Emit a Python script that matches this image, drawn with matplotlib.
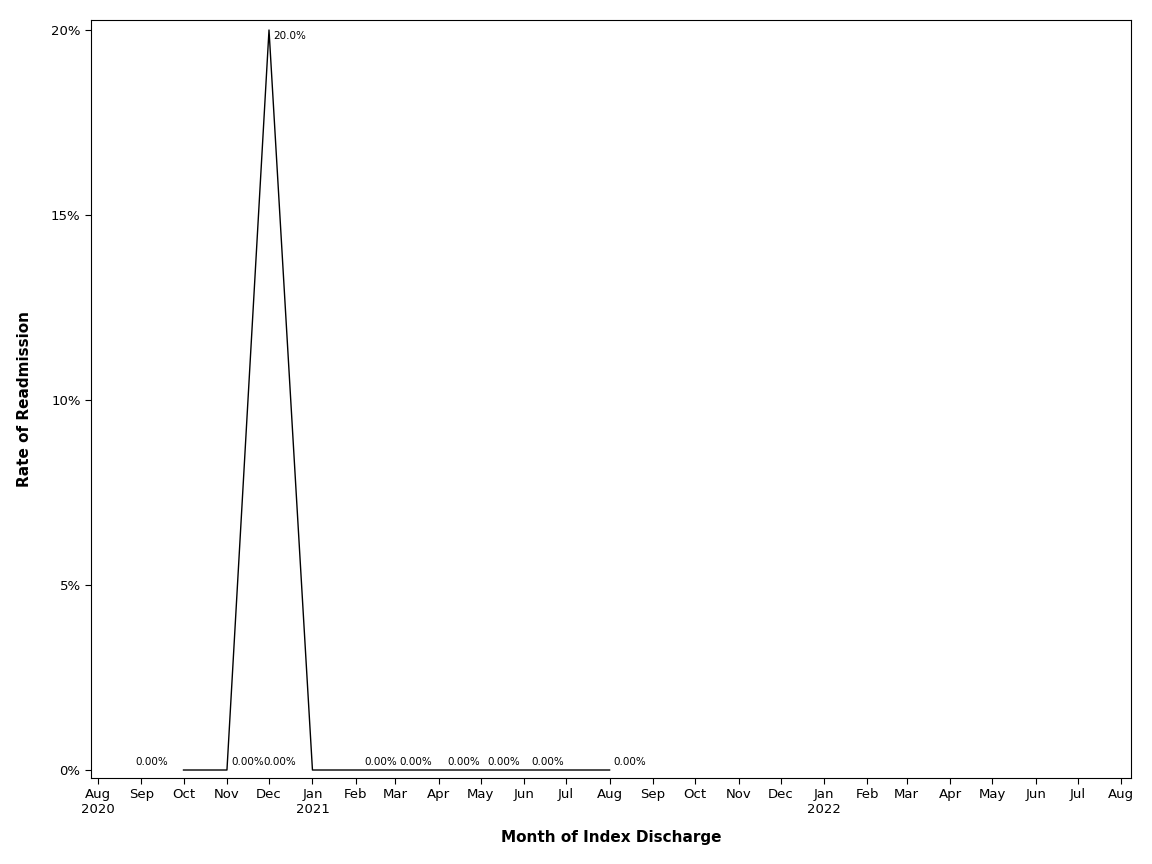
import matplotlib
matplotlib.use("Agg")
import matplotlib.pyplot as plt
import matplotlib.dates as mdates
import datetime as dt

months = ["2020-10","2020-11","2020-12","2021-01","2021-02","2021-03","2021-04",
          "2021-05","2021-06","2021-07","2021-08"]
rates = [0.0,0.0,20.0,0.0,0.0,0.0,0.0,0.0,0.0,0.0,0.0]
labels = ["0.00%","0.00%","20.0%","0.00%","0.00%","0.00%","0.00%","0.00%","0.00%",None,"0.00%"]
# (dx points, ha)
offs = [(-35,"left"),(3,"left"),(3,"left"),(-35,"left"),(6,"left"),(3,"left"),(6,"left"),
        (5,"left"),(5,"left"),(0,"left"),(3,"left")]

dates = [dt.datetime.strptime(m, "%Y-%m") for m in months]

fig = plt.figure(figsize=(11.52, 8.64), dpi=100)
ax = fig.add_axes([91/1152, 1-778/864, (1131-91)/1152, (778-20)/864])
ax.plot(dates, rates, color="black", lw=1)
for d, r, l, (dx, ha) in zip(dates, rates, labels, offs):
    if l:
        ax.annotate(l, (d, r), xytext=(dx, 2 if r == 0 else -8), textcoords="offset points",
                    ha=ha, va="bottom", fontsize=7.5)

ax.set_xlim(dt.datetime(2020, 7, 27), dt.datetime(2022, 8, 8))
ax.set_ylim(-0.216, 20.27)
ticks = [dt.datetime(2020 + (7 + i) // 12, (7 + i) % 12 + 1, 1) for i in range(25)]
ax.set_xticks(ticks)
ax.set_xticklabels([t.strftime("%b") + ("\n%d" % t.year if (t.month == 1 or t == ticks[0]) else "") for t in ticks], fontsize=9.5)
ax.set_yticks([0, 5, 10, 15, 20])
ax.set_yticklabels(["0%", "5%", "10%", "15%", "20%"], fontsize=9.5)
ax.tick_params(direction="out", length=4)
ax.set_xlabel("Month of Index Discharge", fontsize=11, fontweight="bold", labelpad=10)
ax.set_ylabel("Rate of Readmission", fontsize=11, fontweight="bold", labelpad=14)
fig.savefig("out.png", dpi=100)
